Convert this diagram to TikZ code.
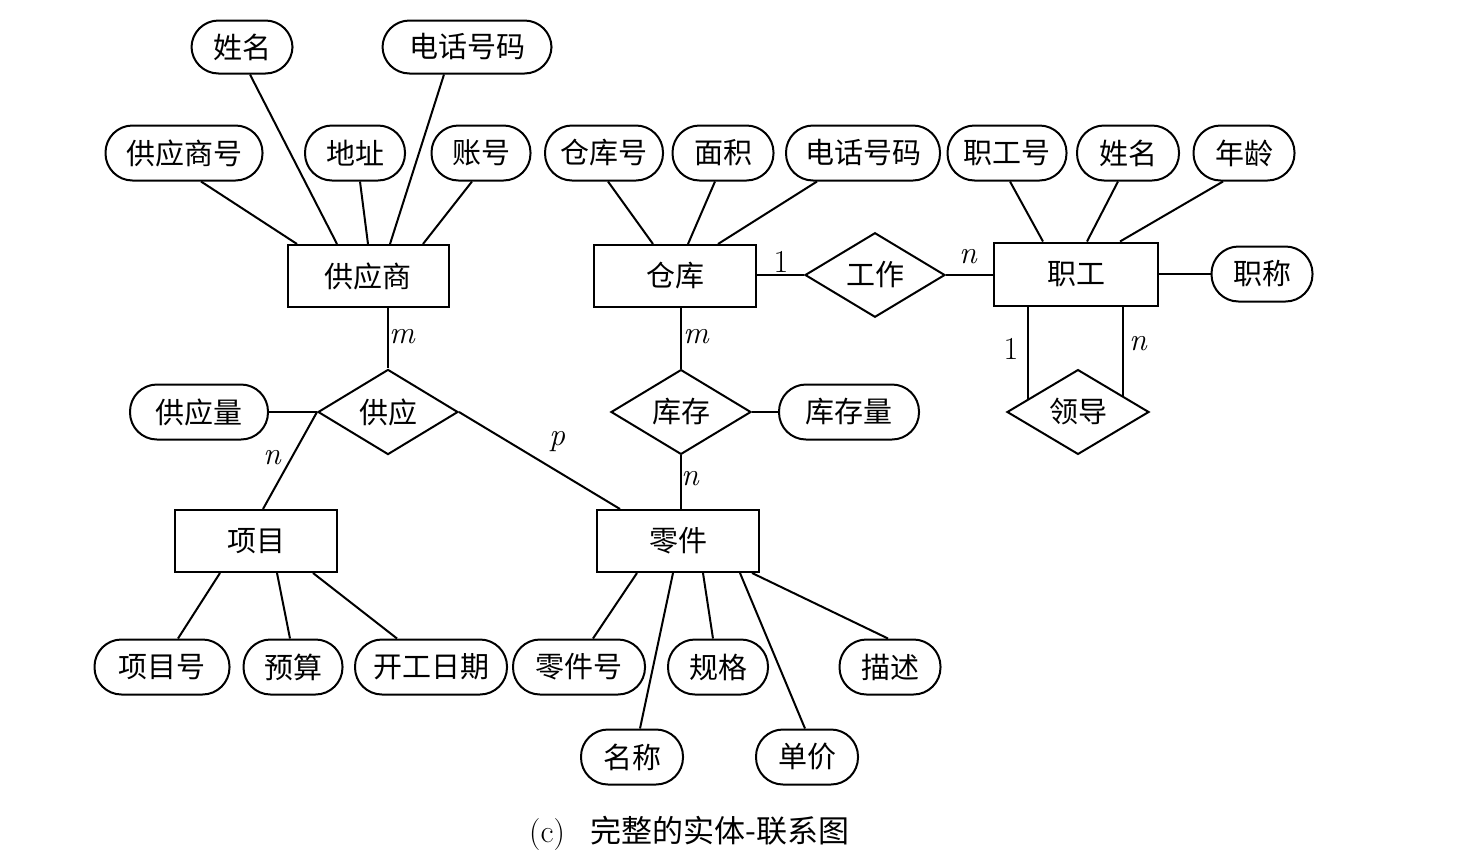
\documentclass[tikz,border=0pt]{standalone}
\usepackage{fontspec}
\newfontfamily\cjk{Noto Sans CJK SC}
\usetikzlibrary{shapes.geometric,calc}
\tikzset{
  ent/.style={draw,line width=2pt,rectangle,minimum width=162pt,minimum height=62pt,inner sep=0pt,font=\cjk\fontsize{29}{30}\selectfont},
  attr/.style={draw,line width=2pt,rectangle,rounded corners=27pt,minimum height=55pt,inner sep=0pt,font=\cjk\fontsize{29}{30}\selectfont},
  rel/.style={draw,line width=2pt,diamond,minimum width=140pt,minimum height=80pt,inner sep=0pt,font=\cjk\fontsize{29}{30}\selectfont},
  conn/.style={line width=2pt},
  card/.style={inner sep=0pt,font=\fontsize{32}{34}\selectfont},
  icard/.style={card,font=\fontsize{32}{34}\selectfont\itshape},
}
\begin{document}
\begin{tikzpicture}[x=1pt,y=-1pt]
\useasboundingbox (0,0) rectangle (1484,863);
% entities
\node[ent,minimum width=161pt] (gys) at (368,276) {供应商};
\node[ent] (ck) at (675,276) {仓库};
\node[ent,minimum width=164pt,minimum height=63pt] (zg) at (1076,274) {职工};
\node[ent] (xm) at (256,541) {项目};
\node[ent] (lj) at (678,541) {零件};
% relationships
\node[rel] (gz) at (875,275) {工作};
\node[rel] (gy) at (388,412) {供应};
\node[rel] (kc) at (681,412) {库存};
\node[rel,minimum width=142pt] (ld) at (1078,412) {领导};
% attributes
\node[attr,minimum width=101pt,minimum height=53pt] (xm1) at (242,47) {姓名};
\node[attr,minimum width=169pt,minimum height=53pt] (dh1) at (467,47) {电话号码};
\node[attr,minimum width=157pt] (gysh) at (184,153) {供应商号};
\node[attr,minimum width=100pt] (dz) at (355,153) {地址};
\node[attr,minimum width=99pt] (zh) at (481,153) {账号};
\node[attr,minimum width=118pt] (ckh) at (604,153) {仓库号};
\node[attr,minimum width=101pt] (mj) at (723,153) {面积};
\node[attr,minimum width=154pt] (dh2) at (863,153) {电话号码};
\node[attr,minimum width=119pt] (zgh) at (1007,153) {职工号};
\node[attr,minimum width=102pt] (xm2) at (1128,153) {姓名};
\node[attr,minimum width=101pt] (nl) at (1244,153) {年龄};
\node[attr,minimum width=101pt] (zc) at (1262,274) {职称};
\node[attr,minimum width=138pt] (gyl) at (199,412) {供应量};
\node[attr,minimum width=140pt] (kcl) at (849,412) {库存量};
\node[attr,minimum width=135pt] (xmh) at (162,667) {项目号};
\node[attr,minimum width=99pt] (ys) at (293,667) {预算};
\node[attr,minimum width=152pt] (kgrq) at (431,667) {开工日期};
\node[attr,minimum width=132pt] (ljh) at (579,667) {零件号};
\node[attr,minimum width=100pt] (gg) at (718,667) {规格};
\node[attr,minimum width=101pt] (ms) at (890,667) {描述};
\node[attr,minimum width=102pt] (mc) at (632,757) {名称};
\node[attr,minimum width=102pt] (dj) at (807,757) {单价};
% attribute connectors: supplier
\draw[conn] ([xshift=17]gysh.south) -- ([xshift=-71]gys.north);
\draw[conn] ([xshift=8]xm1.south) -- ([xshift=-31]gys.north);
\draw[conn] ([xshift=5]dz.south) -- ([xshift=0]gys.north);
\draw[conn] ([xshift=-23]dh1.south) -- ([xshift=22]gys.north);
\draw[conn] ([xshift=-9]zh.south) -- ([xshift=55]gys.north);
% warehouse
\draw[conn] ([xshift=4]ckh.south) -- ([xshift=-22]ck.north);
\draw[conn] ([xshift=-8]mj.south) -- ([xshift=13]ck.north);
\draw[conn] ([xshift=-46]dh2.south) -- ([xshift=43]ck.north);
% employee
\draw[conn] ([xshift=3]zgh.south) -- ([xshift=-33]zg.north);
\draw[conn] ([xshift=-10]xm2.south) -- ([xshift=11]zg.north);
\draw[conn] ([xshift=-21]nl.south) -- ([xshift=44]zg.north);
\draw[conn] (zg.east |- zc.west) -- (zc.west);
% project
\draw[conn] ([xshift=-36]xm.south) -- ([xshift=16]xmh.north);
\draw[conn] ([xshift=21]xm.south) -- ([xshift=-3]ys.north);
\draw[conn] ([xshift=57]xm.south) -- ([xshift=-34]kgrq.north);
% part
\draw[conn] ([xshift=-41]lj.south) -- ([xshift=14]ljh.north);
\draw[conn] ([xshift=-5]lj.south) -- ([xshift=8]mc.north);
\draw[conn] ([xshift=25]lj.south) -- ([xshift=-5]gg.north);
\draw[conn] ([xshift=62]lj.south) -- ([xshift=-2]dj.north);
\draw[conn] ([xshift=74]lj.south) -- ([xshift=-2]ms.north);
% relationships
\draw[conn] (ck.east |- gz.west) -- (gz.west);
\draw[conn] (gz.east) -- (zg.west |- gz.east);
\draw[conn] (gy.north |- gys.south) -- (gy.north);
\draw[conn] (gyl.east) -- (gy.west);
\draw[conn] (gy.west) -- ([xshift=7]xm.north);
\draw[conn] (gy.east) -- ([xshift=-58]lj.north);
\draw[conn] (kc.north |- ck.south) -- (kc.north);
\draw[conn] (kc.east) -- (kcl.west);
\draw[conn] (kc.south) -- (kc.south |- lj.north);
\coordinate (ld1) at ($(ld.west)!0.3!(ld.north)$);
\coordinate (ld2) at ($(ld.east)!0.37!(ld.north)$);
\draw[conn] (zg.south -| ld1) -- (ld1);
\draw[conn] (zg.south -| ld2) -- (ld2);
% cardinalities
\node[card] (c1) at (781,262) {1};
\node[icard] (c2) at (968,257) {n};
\node[icard] (c3) at (402,337) {m};
\node[icard] (c4) at (272,458) {n};
\node[icard] (c5) at (557,442) {p};
\node[icard] (c6) at (696,337) {m};
\node[icard] (c7) at (690,479) {n};
\node[card] (c8) at (1011,349) {1};
\node[icard] (c9) at (1138,344) {n};
% caption
\node[inner sep=0pt,anchor=west,font=\fontsize{32}{34}\selectfont] (cap) at (529,833) {(c)\hspace{26pt}{\cjk\fontsize{31}{34}\selectfont 完整的实体-联系图}};
\end{tikzpicture}
\end{document}
